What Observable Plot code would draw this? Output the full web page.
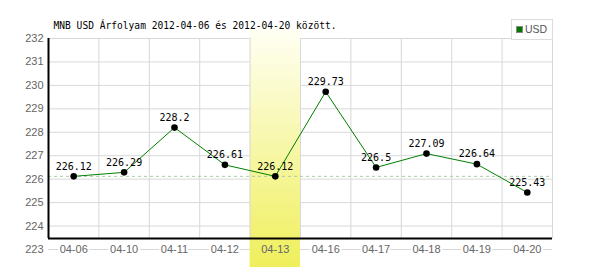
<!DOCTYPE html>
<html>
<head>
<meta charset="utf-8">
<script src="https://cdn.jsdelivr.net/npm/d3@7"></script>
<script src="https://cdn.jsdelivr.net/npm/@observablehq/plot@0.6"></script>
<style>
  html, body { margin: 0; padding: 0; background: #fff; }
  #wrap { position: relative; width: 600px; height: 270px; }
  #legend { position: absolute; left: 511px; top: 19px; width: 40px; height: 19px;
    border: 1px solid #dcdcdc; background: #fff; font: 10.5px "Liberation Sans", sans-serif; color: #555; }
  #legend .sw { position: absolute; left: 4px; top: 6px; width: 5px; height: 5px; background: #007700; border: 1px solid #888; }
  #legend .lb { position: absolute; left: 13px; top: 3px; }
</style>
</head>
<body>
<div id="wrap"></div>
<script>
const dates = ["04-06","04-10","04-11","04-12","04-13","04-16","04-17","04-18","04-19","04-20"];
const rates = [226.12, 226.29, 228.2, 226.61, 226.12, 229.73, 226.5, 227.09, 226.64, 225.43];
const yTicks = [223, 224, 225, 226, 227, 228, 229, 230, 231, 232];
const highlightDate = "04-13";
const refRate = 226.12;
const axisBase = 223.47;
const bandTop = 232.41;
const bandBottom = 222.23;
const title = "MNB USD Árfolyam 2012-04-06 és 2012-04-20 között.";
const seriesName = "USD";

const data = dates.map((d, i) => ({i, date: d, rate: rates[i]}));
const bounds = dates.map((d, i) => i + 0.5);
const hi = dates.indexOf(highlightDate);
const yMin = yTicks[0], yMax = yTicks[yTicks.length - 1];
const labelFont = "Liberation Sans, Arial, sans-serif";
const monoFont = "DejaVu Sans Mono, monospace";

const svg = Plot.plot({
  width: 600,
  height: 270,
  marginLeft: 48,
  marginRight: 48,
  marginTop: 38,
  marginBottom: 21,
  style: {background: "#fff", overflow: "visible"},
  x: {type: "linear", domain: [-0.5, dates.length - 0.5], axis: null},
  y: {domain: [yMin, yMax], axis: null},
  marks: [
    Plot.ruleY(yTicks, {stroke: "#d8d8d8", strokeWidth: 1}),
    Plot.text(data, {x: "i", y: () => yMin, text: "date", fill: "white", stroke: "white", strokeWidth: 4,
      fontSize: 11, fontFamily: labelFont}),
    Plot.rect([hi], {x1: d => d - 0.5, x2: d => d + 0.5, y1: () => bandTop, y2: () => bandBottom, fill: "url(#hlgrad)"}),
    Plot.ruleX(bounds, {y1: () => yMax, y2: () => axisBase, stroke: "#d8d8d8", strokeWidth: 1}),
    Plot.ruleY([refRate], {stroke: "#a8cca8", strokeDasharray: "3,3", strokeWidth: 1}),
    Plot.ruleY([axisBase], {stroke: "#000", strokeWidth: 2}),
    Plot.ruleX([-0.5], {y1: () => yMax, y2: () => axisBase, stroke: "#000", strokeWidth: 2}),
    Plot.axisY(yTicks, {tickSize: 0, tickPadding: 5, fontSize: 11, fill: "#666", fontFamily: labelFont, label: null}),
    Plot.text(data, {x: "i", y: () => yMin, text: "date", fill: "#666", fontSize: 11, fontFamily: labelFont}),
    Plot.line(data, {x: "i", y: "rate", stroke: "#008000", strokeWidth: 1}),
    Plot.dot(data, {x: "i", y: "rate", r: 3.3, fill: "#000", stroke: "none"}),
    Plot.text(data, {x: "i", y: "rate", text: d => String(d.rate), dy: -10, fill: "#000", fontSize: 10, fontFamily: monoFont}),
    Plot.text([title], {frameAnchor: "top-left", textAnchor: "start", lineAnchor: "bottom", dx: 5, dy: -10,
      fill: "#000", fontSize: 9.6, fontFamily: monoFont})
  ]
});

const ns = "http://www.w3.org/2000/svg";
const defs = document.createElementNS(ns, "defs");
const grad = document.createElementNS(ns, "linearGradient");
grad.setAttribute("id", "hlgrad");
grad.setAttribute("x1", "0"); grad.setAttribute("y1", "0");
grad.setAttribute("x2", "0"); grad.setAttribute("y2", "1");
[["0%", "#fffff4"], ["100%", "#efef5c"]].forEach(([o, c]) => {
  const s = document.createElementNS(ns, "stop");
  s.setAttribute("offset", o); s.setAttribute("stop-color", c);
  grad.appendChild(s);
});
defs.appendChild(grad);
svg.insertBefore(defs, svg.firstChild);

const wrap = document.getElementById("wrap");
wrap.appendChild(svg);
const legend = document.createElement("div");
legend.id = "legend";
legend.innerHTML = '<span class="sw"></span><span class="lb"></span>';
legend.querySelector(".lb").textContent = seriesName;
wrap.appendChild(legend);
</script>
</body>
</html>
